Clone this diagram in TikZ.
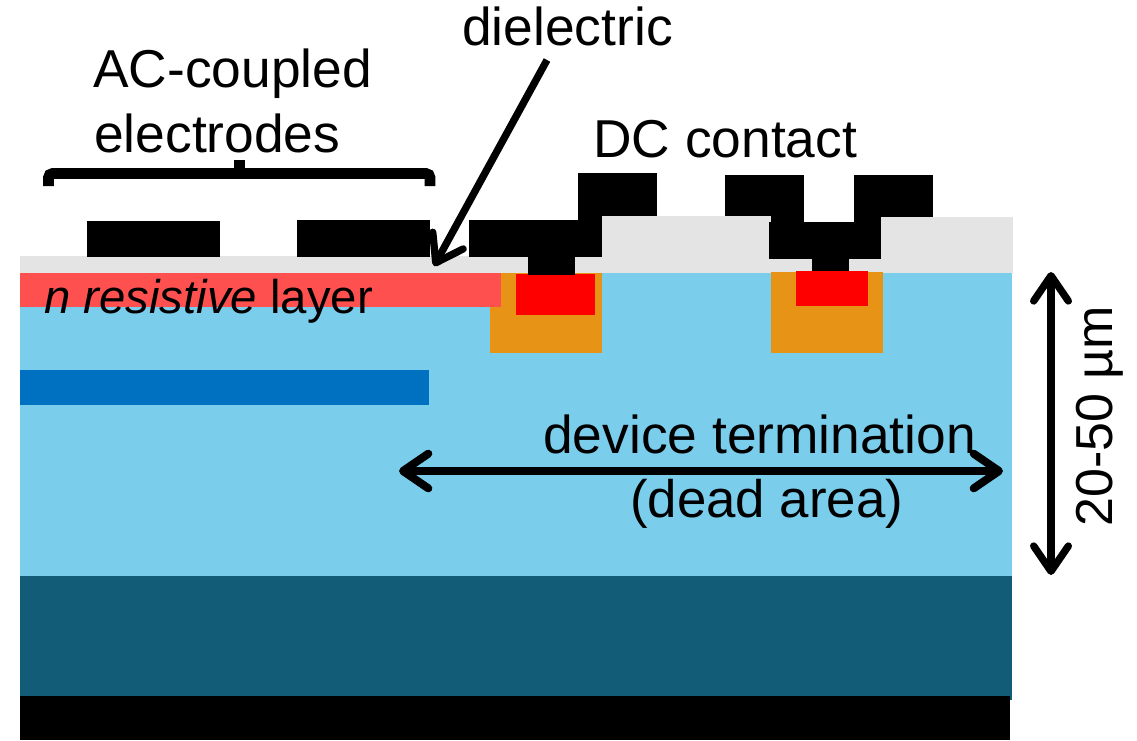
\documentclass[tikz,border=0pt]{standalone}
\usepackage{fontspec}
\setmainfont{Liberation Sans}
\usetikzlibrary{arrows.meta}

\definecolor{bulkblue}{RGB}{123,205,236}
\definecolor{gainblue}{RGB}{0,112,192}
\definecolor{substrateblue}{RGB}{18,92,120}
\definecolor{resistivered}{RGB}{255,80,80}
\definecolor{wellorange}{RGB}{230,147,22}
\definecolor{dielectricgray}{RGB}{228,228,228}

\tikzset{
	labeltext/.style={anchor=base west,inner sep=0pt,font=\fontsize{40}{48}\selectfont},
	bigarrow/.style={line width=6pt,{Straight Barb[length=19pt,width=26pt,round]}-{Straight Barb[length=19pt,width=26pt,round]}},
	onearrow/.style={line width=5.5pt,-{Straight Barb[length=19pt,width=26pt,round]}},
}

\begin{document}
\begin{tikzpicture}[x=0.75pt,y=0.75pt,yscale=-1,xscale=1]
	\useasboundingbox (0,0) rectangle (1137,740);

	%Shape: bulk and substrate
	\fill [bulkblue] (20,273) rectangle (1012,576);
	\fill [substrateblue] (20,576) rectangle (1012,700);
	\fill [black] (20,696) rectangle (1010,740);
	%Shape: gain layer
	\fill [gainblue] (20,370) rectangle (429,405);

	%Shape: metal pads under the dielectric
	\fill [black] (578,173) rectangle (657,222);
	\fill [black] (725,175) rectangle (804,222);
	\fill [black] (854,175) rectangle (933,222);

	%Shape: dielectric
	\fill [dielectricgray] (20,256) rectangle (1013,273);
	\fill [dielectricgray] (602,216) rectangle (771,273);
	\fill [dielectricgray] (881,217) rectangle (1013,273);

	%Shape: n layer and implants
	\fill [wellorange] (490,273) rectangle (602,353);
	\fill [wellorange] (771,272) rectangle (883,353);
	\fill [resistivered] (20,273) rectangle (501,307);
	\fill [red] (516,274) rectangle (595,315);
	\fill [red] (796,271) rectangle (868,306);

	%Shape: electrodes and contacts
	\fill [black] (87,221) rectangle (220,257);
	\fill [black] (297,220) rectangle (430,257);
	\fill [black] (469,220) rectangle (602,257);
	\fill [black] (528,257) rectangle (575,275);
	\fill [black] (769,222) rectangle (881,259);
	\fill [black] (812,259) rectangle (849,271);

	%Brace
	\draw [line width=8pt,rounded corners=3pt] (48.5,186) -- (48.5,173.5) -- (430,173.5) -- (430,186);
	\fill [black] (234,160) rectangle (245,170);

	\coordinate (dielectric tail) at (547,60);
	\coordinate (dielectric tip) at (434,266);
	\coordinate (termination left) at (399,471);
	\coordinate (termination right) at (1003,471);
	\coordinate (depth top) at (1051,272);
	\coordinate (depth bottom) at (1051,575);

	%Straight Lines
	\draw [onearrow] (dielectric tail) -- (dielectric tip);
	\draw [bigarrow] (termination left) -- (termination right);
	\draw [bigarrow,line width=5.5pt] (depth top) -- (depth bottom);

	% Text Node
	\node (dielectric label) [labeltext] at (462,45) {dielectric};
	% Text Node
	\node (coupled label) [labeltext] at (93,87) {AC-coupled};
	% Text Node
	\node (electrodes label) [labeltext] at (94,152) {electrodes};
	% Text Node
	\node (contact label) [labeltext] at (593,157) {DC contact};
	% Text Node
	\node (resistive label) [labeltext,font=\fontsize{35.5}{42}\selectfont] at (44,313) {\textit{n resistive} layer};
	% Text Node
	\node (termination label) [labeltext] at (543,453) {device termination};
	% Text Node
	\node (dead label) [labeltext,font=\fontsize{39.6}{48}\selectfont] at (630,517) {(dead area)};
	% Text Node
	\node (depth label) [labeltext,rotate=90,font=\fontsize{39}{48}\selectfont] at (1112,527) {20-50 µm};
\end{tikzpicture}
\end{document}
